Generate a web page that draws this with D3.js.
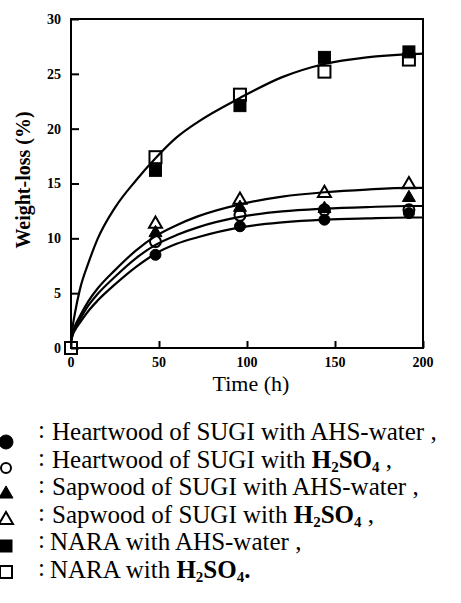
<!DOCTYPE html>
<html>
<head>
<meta charset="utf-8">
<script src="https://cdn.jsdelivr.net/npm/d3@7/dist/d3.min.js"></script>
<style>
	body { margin: 0; background: #fff; }
	svg { display: block; }
	svg text { font-family: "Liberation Serif", "Times New Roman", serif; }
</style>
</head>
<body>
<div id="chart"></div>
<script>
// measured times (h)
const times = [0, 48, 96, 144, 192];

// weight-loss (%)
const heartAHS = [null, 8.5, 11.1, 11.7, 12.3];
const heartH2SO4 = [null, 9.7, 12.1, 12.6, 12.6];
const sapAHS = [null, 10.5, 12.8, 12.7, 13.7];
const sapH2SO4 = [null, 11.3, 13.5, 14.1, 14.9];
const naraAHS = [null, 16.2, 22.1, 26.5, 27.0];
const naraH2SO4 = [0, 17.4, 23.1, 25.2, 26.3];

// fitted curves
const fitTimes = [0, 1, 2.5, 5, 10, 15, 25, 37, 48, 60, 72, 96, 120, 144, 168, 192, 200];
const fitNara = [0.6, 2.0, 3.4, 5.3, 7.8, 9.9, 12.8, 15.3, 17.3, 19.2, 20.6, 22.8, 24.7, 25.9, 26.5, 26.8, 26.85];
const fitSap = [0.6, 1.4, 2.1, 2.9, 4.3, 5.4, 7.1, 8.9, 10.2, 11.2, 12.0, 13.1, 13.8, 14.2, 14.45, 14.6, 14.6];
const fitMid = [0.6, 1.3, 1.9, 2.6, 3.9, 4.9, 6.5, 8.2, 9.4, 10.3, 11.0, 11.95, 12.45, 12.7, 12.85, 12.95, 12.95];
const fitHeart = [0.6, 1.2, 1.7, 2.3, 3.4, 4.3, 5.8, 7.4, 8.6, 9.5, 10.1, 11.0, 11.45, 11.7, 11.82, 11.9, 11.9];

const xTicks = [0, 50, 100, 150, 200];
const yTicks = [0, 5, 10, 15, 20, 25, 30];

const series = [
	{ values: heartAHS, shape: 'circle', filled: true, label: ['Heartwood of SUGI with AHS-water ,'] },
	{ values: heartH2SO4, shape: 'circle', filled: false, label: ['Heartwood of SUGI with ', 'chem', ' ,'] },
	{ values: sapAHS, shape: 'triangle', filled: true, label: ['Sapwood of SUGI with AHS-water ,'] },
	{ values: sapH2SO4, shape: 'triangle', filled: false, label: ['Sapwood of SUGI with ', 'chem', ' ,'] },
	{ values: naraAHS, shape: 'square', filled: true, label: ['NARA with AHS-water ,'] },
	{ values: naraH2SO4, shape: 'square', filled: false, label: ['NARA with ', 'chem', '.'] }
];
const fits = [fitNara, fitSap, fitMid, fitHeart];

const width = 461, height = 603;
const svg = d3.select('#chart').append('svg')
	.attr('width', width)
	.attr('height', height);

const x = d3.scaleLinear().domain([0, 200]).range([71, 423]);
const y = d3.scaleLinear().domain([0, 30]).range([348, 19]);

// frame
svg.append('rect')
	.attr('x', x(0)).attr('y', y(30))
	.attr('width', x(200) - x(0)).attr('height', y(0) - y(30))
	.attr('fill', 'none').attr('stroke', '#000').attr('stroke-width', 2);

// y axis ticks (inside)
svg.append('g')
	.attr('transform', `translate(${x(0)},0)`)
	.call(d3.axisRight(y).tickValues(yTicks).tickSize(8).tickFormat(''))
	.call(g => g.select('.domain').remove())
	.call(g => g.selectAll('line').attr('stroke-width', 2));

svg.append('g')
	.selectAll('text')
	.data(yTicks)
	.enter().append('text')
	.attr('x', 61)
	.attr('y', d => y(d))
	.attr('dy', '0.35em')
	.attr('text-anchor', 'end')
	.attr('font-size', 14)
	.attr('font-weight', 'bold')
	.text(d => d);

// x axis ticks (inside)
svg.append('g')
	.attr('transform', `translate(0,${y(0)})`)
	.call(d3.axisTop(x).tickValues(xTicks).tickSize(7).tickFormat(''))
	.call(g => g.select('.domain').remove())
	.call(g => g.selectAll('line').attr('stroke-width', 2));

svg.append('g')
	.selectAll('text')
	.data(xTicks)
	.enter().append('text')
	.attr('x', d => x(d))
	.attr('y', 367)
	.attr('text-anchor', 'middle')
	.attr('font-size', 14)
	.attr('font-weight', 'bold')
	.text(d => d);

// axis titles
svg.append('text')
	.attr('transform', 'translate(30,180) rotate(-90)')
	.attr('text-anchor', 'middle')
	.attr('font-size', 20)
	.attr('font-weight', 'bold')
	.text('Weight-loss (%)');

svg.append('text')
	.attr('x', 251)
	.attr('y', 391)
	.attr('text-anchor', 'middle')
	.attr('font-size', 22)
	.text('Time (h)');

// fitted curves
const line = d3.line()
	.x((d, i) => x(fitTimes[i]))
	.y(d => y(d))
	.curve(d3.curveMonotoneX);

svg.append('g')
	.selectAll('path')
	.data(fits)
	.enter().append('path')
	.attr('d', d => line(d))
	.attr('fill', 'none')
	.attr('stroke', '#000')
	.attr('stroke-width', 2.2);

function drawMarker(g, shape, filled, size) {
	const fill = filled ? '#000' : 'none';
	if (shape === 'circle') {
		g.append('circle').attr('r', size / 2);
	} else if (shape === 'square') {
		g.append('rect')
			.attr('x', -size / 2).attr('y', -size / 2)
			.attr('width', size).attr('height', size);
	} else {
		const area = Math.sqrt(3) / 4 * size * size;
		g.append('path').attr('d', d3.symbol(d3.symbolTriangle, area)());
	}
	g.selectAll('*')
		.attr('fill', fill)
		.attr('stroke', '#000')
		.attr('stroke-width', filled ? 1 : 2);
}

// data points
series.forEach(s => {
	s.values.forEach((v, i) => {
		if (v === null) return;
		const g = svg.append('g').attr('transform', `translate(${x(times[i])},${y(v)})`);
		const size = s.shape === 'circle' ? 11 : (s.shape === 'square' ? 12 : 13);
		drawMarker(g, s.shape, s.filled, size);
	});
});

// legend
const textTop = 440, textStep = 27.6;
const markTop = 442, markStep = 26;
series.forEach((s, i) => {
	const baseY = textTop + i * textStep;
	const g = svg.append('g').attr('transform', `translate(6,${markTop + i * markStep})`);
	const size = s.shape === 'circle' ? (s.filled ? 14 : 10) : (s.shape === 'square' ? 12 : 14);
	drawMarker(g, s.shape, s.filled, size);

	svg.append('text')
		.attr('x', 38)
		.attr('y', baseY - 2)
		.attr('font-size', 25)
		.text(':');

	const t = svg.append('text')
		.attr('x', i < 4 ? 52 : 50)
		.attr('y', baseY)
		.attr('font-size', 25);
	let shift = 0;
	s.label.forEach(part => {
		if (part === 'chem') {
			t.append('tspan').attr('font-weight', 'bold').text('H');
			t.append('tspan').attr('font-weight', 'bold').attr('font-size', 15).attr('dy', 4).text('2');
			t.append('tspan').attr('font-weight', 'bold').attr('dy', -4).text('SO');
			t.append('tspan').attr('font-weight', 'bold').attr('font-size', 15).attr('dy', 4).text('4');
			shift = -4;
		} else {
			t.append('tspan')
				.attr('font-weight', part === '.' ? 'bold' : null)
				.attr('dy', shift || null)
				.text(part);
			shift = 0;
		}
	});
});
</script>
</body>
</html>
